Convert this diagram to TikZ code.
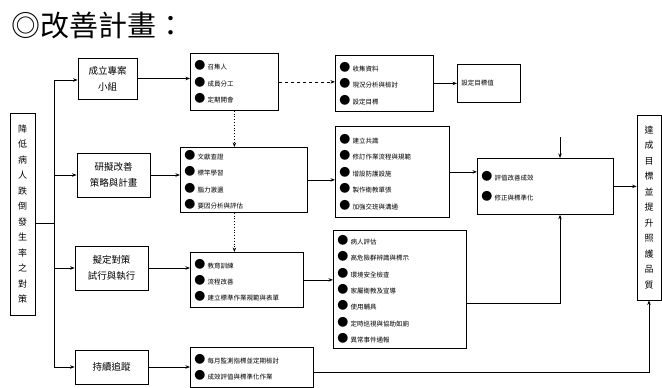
\documentclass[tikz,border=0pt]{standalone}
\usepackage{fontspec}
\setmainfont{Noto Sans CJK TC}
\usetikzlibrary{arrows.meta}
\newcommand\bul{{\fontsize{11}{11}\selectfont ●}\ }
\begin{document}
\begin{tikzpicture}[x=1pt,y=-1pt,
  box/.style={draw, line width=0.8pt, inner sep=2pt, align=center, font=\fontsize{9.5}{16}\selectfont},
  vbox/.style={draw, line width=0.8pt, inner sep=1pt, align=center, font=\fontsize{9}{15.5}\selectfont},
  lst/.style={draw, line width=0.8pt, anchor=north west, align=left, inner xsep=4pt, inner ysep=1pt},
  arr/.style={-{Stealth[length=4.5pt,width=3.5pt]}, line width=0.8pt},
  ln/.style={line width=0.8pt}]
\useasboundingbox (0,0) rectangle (662,388);
% title
\node[anchor=west, inner sep=0pt, font=\fontsize{29}{29}\selectfont] (title) at (11,25) {◎改善計畫：};
% left vertical box
\node[vbox, minimum width=25pt, minimum height=202pt] (L) at (22.5,214)
  {降\\低\\病\\人\\跌\\倒\\發\\生\\率\\之\\對\\策};
% stage boxes
\node[box, minimum width=59pt, minimum height=41pt] (box1) at (107.5,78.5) {成立專案\\小組};
\node[box, minimum width=73pt, minimum height=44pt] (box2) at (113.5,175) {研擬改善\\策略與計畫};
\node[box, minimum width=73pt, minimum height=44pt] (box3) at (111.5,268) {擬定對策\\試行與執行};
\node[box, minimum width=73pt, minimum height=34pt] (box4) at (111.5,367) {持續追蹤};
% bullet boxes
\node[lst, minimum width=88pt, minimum height=57pt, text width=80pt, font=\fontsize{6.5}{16.5}\selectfont] (B1) at (190,53)
  {\bul 召集人\\ \bul 成員分工\\ \bul 定期開會};
\node[lst, minimum width=98pt, minimum height=56pt, text width=90pt, font=\fontsize{6.5}{16.5}\selectfont] (B7) at (335,55)
  {\bul 收集資料\\ \bul 現況分析與檢討\\ \bul 設定目標};
\node[lst, minimum width=63pt, minimum height=38pt, text width=55pt, font=\fontsize{6.5}{14}\selectfont] (B8) at (457,64)
  {設定目標值};
\node[lst, minimum width=127pt, minimum height=65pt, text width=119pt, font=\fontsize{6.5}{16.5}\selectfont] (B2) at (180,147)
  {\bul 文獻查證\\ \bul 標竿學習\\ \bul 腦力激盪\\ \bul 要因分析與評估};
\node[lst, minimum width=113pt, minimum height=55pt, text width=105pt, font=\fontsize{6.5}{16}\selectfont] (B3) at (190,252)
  {\bul 教育訓練\\ \bul 流程改善\\ \bul 建立標準作業規範與表單};
\node[lst, minimum width=123pt, minimum height=40pt, text width=115pt, font=\fontsize{6.5}{16}\selectfont] (B4) at (190,347)
  {\bul 每月監測指標並定期檢討\\ \bul 成效評值與標準化作業};
\node[lst, minimum width=114pt, minimum height=91pt, text width=106pt, font=\fontsize{6.5}{16.5}\selectfont] (B5) at (335,126)
  {\bul 建立共識\\ \bul 修訂作業流程與規範\\ \bul 增設防護設施\\ \bul 製作衛教單張\\ \bul 加強交班與溝通};
\node[lst, minimum width=133pt, minimum height=118pt, text width=125pt, font=\fontsize{6.5}{16.3}\selectfont] (B6) at (333,230)
  {\bul 病人評估\\ \bul 高危險群辨識與標示\\ \bul 環境安全檢查\\ \bul 家屬衛教及宣導\\ \bul 使用輔具\\ \bul 定時巡視與協助如廁\\ \bul 異常事件通報};
\node[lst, minimum width=136pt, minimum height=56pt, text width=128pt, font=\fontsize{6.5}{20}\selectfont] (B9) at (477,158)
  {\bul 評值改善成效\\ \bul 修正與標準化};
% right vertical box
\node[vbox, minimum width=24pt, minimum height=185pt] (R) at (649,207.5)
  {達\\成\\目\\標\\並\\提\\升\\照\\護\\品\\質};
% trunk coordinates
\coordinate (t0) at (54,80);
\coordinate (t2) at (54,175);
\coordinate (t3) at (54,268);
\coordinate (t1) at (54,367);
\coordinate (tL) at (54,223);
\coordinate (c1) at (560,303);
\coordinate (c2) at (560,137);
\coordinate (c3) at (649,372);
% trunk
\draw[ln] (L.east |- tL) -- (tL);
\draw[ln] (t0) -- (t1);
\draw[arr] (t0) -- (t0 -| box1.west);
\draw[arr] (t2) -- (t2 -| box2.west);
\draw[arr] (t3) -- (t3 -| box3.west);
\draw[arr] (t1) -- (t1 -| box4.west);
% stage to bullets
\draw[arr] (box1.east) -- (box1.east -| B1.west);
\draw[arr] (box2.east) -- (box2.east -| B2.west);
\draw[arr] (box3.east) -- (box3.east -| B3.west);
\draw[arr] (box4.east) -- (box4.east -| B4.west);
% vertical links
\draw[arr, dotted] (B1.south) -- (B1.south |- B2.north);
\draw[arr, dotted] (B1.south |- B2.south) -- (B1.south |- B3.north);
% to the right
\draw[arr, dashed] (B1.east) -- (B1.east -| B7.west);
\draw[arr] (B7.east) -- (B7.east -| B8.west);
\draw[arr] (B2.east) -- (B2.east -| B5.west);
\draw[arr] (B3.east) -- (B3.east -| B6.west);
\draw[arr] (B5.east) -- (B5.east -| B9.west);
\draw[arr] (B6.east |- c1) -- (c1) -- (c1 |- B9.south);
\draw[arr] (c2) -- (c2 |- B9.north);
\draw[arr] (B9.east) -- (B9.east -| R.west);
\draw[arr] (B4.east |- c3) -- (c3) -- (R.south);
\end{tikzpicture}
\end{document}
